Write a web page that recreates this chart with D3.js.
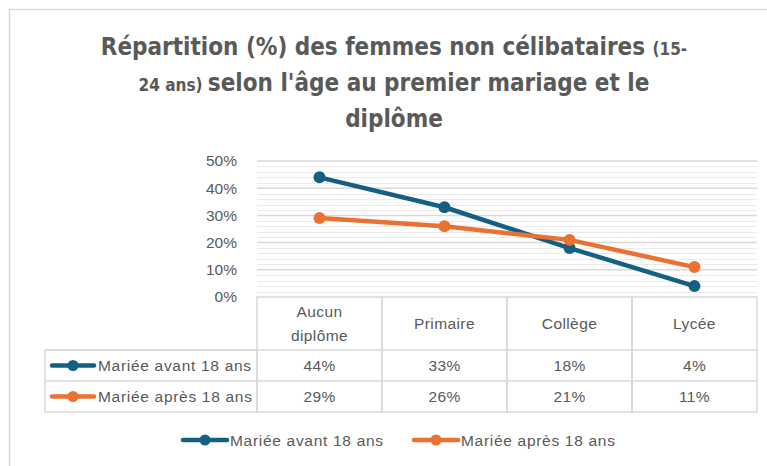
<!DOCTYPE html>
<html>
<head>
<meta charset="utf-8">
<script src="https://cdn.jsdelivr.net/npm/d3@7"></script>
<style>
  body { margin: 0; background: #fff; }
  svg text { font-family: "Liberation Sans", Arial, sans-serif; }
</style>
</head>
<body>
<div id="chart"></div>
<script>
// data
const categories = ["Aucun diplôme", "Primaire", "Collège", "Lycée"];
const seriesNames = ["Mariée avant 18 ans", "Mariée après 18 ans"];
const avant18 = [0.44, 0.33, 0.18, 0.04];
const apres18 = [0.29, 0.26, 0.21, 0.11];
const yTicks = [0, 0.1, 0.2, 0.3, 0.4, 0.5];
const colors = ["#156082", "#E97132"];

const series = [avant18, apres18];

const width = 767, height = 466;
const margin = { top: 161, right: 10, bottom: 169, left: 257 };

const svg = d3.select("#chart").append("svg")
    .attr("width", width)
    .attr("height", height);

// chart frame
svg.append("rect")
    .attr("x", 9.5).attr("y", 9.5)
    .attr("width", width + 20).attr("height", height + 20)
    .attr("fill", "none")
    .attr("stroke", "#d9d9d9")
    .attr("stroke-width", 1.5);

// title
const title = svg.append("text")
    .attr("text-anchor", "middle")
    .attr("fill", "#595959")
    .style("font-family", "'Liberation Sans Narrow', 'DejaVu Sans Condensed', sans-serif")
    .style("font-weight", "bold");
const tl1 = title.append("tspan").attr("x", 394).attr("y", 55).style("font-size", "24px");
tl1.append("tspan").text("Répartition (%) des femmes non célibataires ");
tl1.append("tspan").style("font-size", "17px").text("(15-");
const tl2 = title.append("tspan").attr("x", 394).attr("y", 91).style("font-size", "24px");
tl2.append("tspan").style("font-size", "17px").text("24 ans) ");
tl2.append("tspan").text("selon l'âge au premier mariage et le");
title.append("tspan").attr("x", 394).attr("y", 127).style("font-size", "24px").text("diplôme");

// scales
const x = d3.scaleBand()
    .domain(categories)
    .range([margin.left, width - margin.right]);

const y = d3.scaleLinear()
    .domain([0, 0.5])
    .range([297, margin.top]);

// minor gridlines
svg.append("g")
    .selectAll("line")
    .data(d3.range(0.02, 0.5, 0.02).filter(v => Math.abs(v * 10 - Math.round(v * 10)) > 0.01))
    .join("line")
    .attr("x1", x.range()[0]).attr("x2", x.range()[1])
    .attr("y1", d => Math.round(y(d)) + 0.5).attr("y2", d => Math.round(y(d)) + 0.5)
    .attr("stroke", "#ebebeb")
    .attr("stroke-width", 1);

// major gridlines
svg.append("g")
    .selectAll("line")
    .data(yTicks.filter(d => d > 0))
    .join("line")
    .attr("x1", x.range()[0]).attr("x2", x.range()[1])
    .attr("y1", d => y(d)).attr("y2", d => y(d))
    .attr("stroke", "#d9d9d9")
    .attr("stroke-width", 1.5);

// y axis
const yAxis = d3.axisLeft(y)
    .tickValues(yTicks)
    .tickFormat(d3.format(".0%"))
    .tickSize(0)
    .tickPadding(0);

svg.append("g")
    .attr("class", "y-axis")
    .attr("transform", "translate(237,0)")
    .call(yAxis)
    .call(g => g.select(".domain").remove())
    .selectAll("text")
    .attr("fill", "#595959")
    .style("font-size", "15.5px")
    .attr("dy", "0.32em");

// lines
const line = d3.line()
    .x((d, i) => x(categories[i]) + x.bandwidth() / 2)
    .y(d => y(d));

series.forEach((s, k) => {
    svg.append("path")
        .datum(s)
        .attr("fill", "none")
        .attr("stroke", colors[k])
        .attr("stroke-width", 4.5)
        .attr("stroke-linejoin", "round")
        .attr("d", line);
    svg.append("g")
        .selectAll("circle")
        .data(s)
        .join("circle")
        .attr("cx", (d, i) => x(categories[i]) + x.bandwidth() / 2)
        .attr("cy", d => y(d))
        .attr("r", 6)
        .attr("fill", colors[k]);
});

// data table
const rowTop = [297, 350, 381];
const rowBot = [350, 381, 412];
const tableLeft = 45;
const grid = svg.append("g").attr("stroke", "#d9d9d9").attr("stroke-width", 1.5).attr("fill", "none");

// header cells
categories.forEach(c => {
    grid.append("rect")
        .attr("x", x(c)).attr("y", rowTop[0])
        .attr("width", x.bandwidth()).attr("height", rowBot[2] - rowTop[0]);
});
// row lines
[rowTop[1], rowTop[2]].forEach(yy => {
    grid.append("line")
        .attr("x1", tableLeft).attr("x2", x.range()[1])
        .attr("y1", yy).attr("y2", yy);
});
grid.append("rect")
    .attr("x", tableLeft).attr("y", rowTop[1])
    .attr("width", x.range()[0] - tableLeft).attr("height", rowBot[2] - rowTop[1]);

const cellFont = "15.5px";
const cellSpacing = "0.4px";

// header labels
const header = svg.append("g")
    .selectAll("text")
    .data(categories)
    .join("text")
    .attr("text-anchor", "middle")
    .attr("fill", "#595959")
    .style("font-size", cellFont)
    .style("letter-spacing", cellSpacing)
    .attr("x", d => x(d) + x.bandwidth() / 2);
header.each(function(d) {
    const t = d3.select(this);
    const words = d === "Aucun diplôme" ? ["Aucun", "diplôme"] : [d];
    const mid = (rowTop[0] + rowBot[0]) / 2 + 5;
    words.forEach((w, i) => {
        t.append("tspan")
            .attr("x", x(d) + x.bandwidth() / 2)
            .attr("y", mid + (i - (words.length - 1) / 2) * 24)
            .text(w);
    });
});

// value cells + row legend keys
series.forEach((s, k) => {
    const cy = (rowTop[k + 1] + rowBot[k + 1]) / 2;
    svg.append("g")
        .selectAll("text")
        .data(s)
        .join("text")
        .attr("x", (d, i) => x(categories[i]) + x.bandwidth() / 2)
        .attr("y", cy + 5.5)
        .attr("text-anchor", "middle")
        .attr("fill", "#595959")
        .style("font-size", cellFont)
        .style("letter-spacing", cellSpacing)
        .text(d => d3.format(".0%")(d));

    svg.append("line")
        .attr("x1", 52).attr("x2", 94)
        .attr("y1", cy).attr("y2", cy)
        .attr("stroke", colors[k]).attr("stroke-width", 4.5)
        .attr("stroke-linecap", "round");
    svg.append("circle")
        .attr("cx", 73).attr("cy", cy).attr("r", 5.5)
        .attr("fill", colors[k]);
    svg.append("text")
        .attr("x", 98).attr("y", cy + 5.5)
        .attr("fill", "#595959")
        .style("font-size", cellFont)
        .style("letter-spacing", "0.7px")
        .text(seriesNames[k]);
});

// bottom legend
const legendX = [183, 414];
seriesNames.forEach((n, k) => {
    const g = svg.append("g").attr("transform", `translate(${legendX[k]},440)`);
    g.append("line")
        .attr("x1", 0).attr("x2", 44)
        .attr("stroke", colors[k]).attr("stroke-width", 4.5)
        .attr("stroke-linecap", "round");
    g.append("circle").attr("cx", 22).attr("r", 5.5).attr("fill", colors[k]);
    g.append("text")
        .attr("x", 47).attr("y", 5.5)
        .attr("fill", "#595959")
        .style("font-size", cellFont)
        .style("letter-spacing", "0.7px")
        .text(n);
});
</script>
</body>
</html>
